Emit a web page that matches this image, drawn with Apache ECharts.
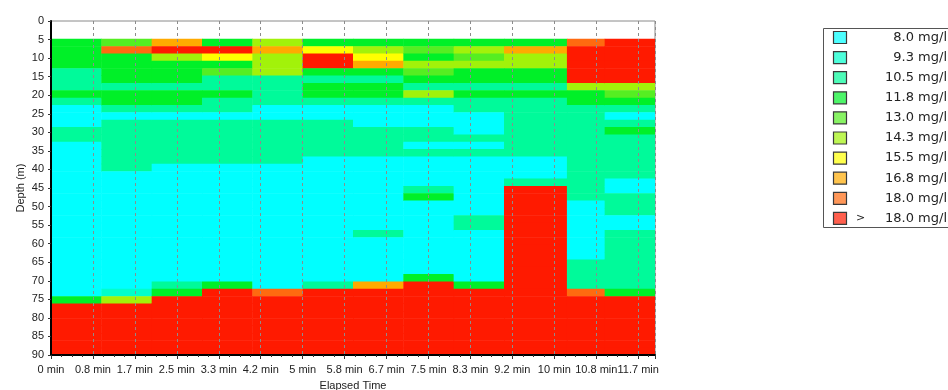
<!DOCTYPE html>
<html>
<head>
<meta charset="utf-8">
<script src="https://cdn.jsdelivr.net/npm/echarts@6/dist/echarts.min.js"></script>
<style>
  html, body { margin: 0; padding: 0; background: #ffffff; }
  #chart { width: 948px; height: 390px; }
</style>
</head>
<body>
<div id="chart"></div>
<script>
// Profile start times (min); each profile is shown until the next one starts.
const sampleStartMin = [0, 1, 2, 3, 4, 5, 6, 7, 8, 9, 10.25, 11];
const lastSampleEndMin = 12;

// Depth bins (m), top to bottom.
const binTopDepth = 4.8;
const binBottomDepth = 90;
const binCount = 43;

// Concentration classes (upper bounds), lowest first.
const classLabels = ['8.0 mg/l', '9.3 mg/l', '10.5 mg/l', '11.8 mg/l', '13.0 mg/l',
                     '14.3 mg/l', '15.5 mg/l', '16.8 mg/l', '18.0 mg/l', '18.0 mg/l'];
const classColors = ['#00FFFF', '#00FFCC', '#00FA9A', '#00F028', '#55EE22',
                     '#A2F20A', '#FFFF00', '#FFAA00', '#FF6A10', '#FF1A00'];

// Class index of each depth bin, one array per profile.
const profile00 = [3,3,3,3,2,2,2,3,2,0,0,0,2,2,0,0,0,0,0,0,0,0,0,0,0,0,0,0,0,0,0,0,0,0,0,3,9,9,9,9,9,9,9];
const profile01 = [4,8,3,3,3,3,2,3,3,2,0,2,2,2,2,2,2,2,0,0,0,0,0,0,0,0,0,0,0,0,0,0,0,0,1,5,9,9,9,9,9,9,9];
const profile02 = [7,9,5,3,3,3,2,3,3,2,0,2,2,2,2,2,2,0,0,0,0,0,0,0,0,0,0,0,0,0,0,0,0,2,3,9,9,9,9,9,9,9,9];
const profile03 = [3,9,6,3,4,2,2,3,2,2,0,2,2,2,2,2,2,0,0,0,0,0,0,0,0,0,0,0,0,0,0,0,0,3,9,9,9,9,9,9,9,9,9];
const profile04 = [5,7,5,5,5,2,2,2,2,0,0,2,2,2,2,2,2,0,0,0,0,0,0,0,0,0,0,0,0,0,0,0,0,0,8,9,9,9,9,9,9,9,9];
const profile05 = [3,6,9,9,3,2,3,3,2,0,0,2,2,2,2,2,0,0,0,0,0,0,0,0,0,0,0,0,0,0,0,0,0,2,9,9,9,9,9,9,9,9,9];
const profile06 = [3,5,6,7,3,2,3,3,2,0,0,0,2,2,2,2,0,0,0,0,0,0,0,0,0,0,2,0,0,0,0,0,0,7,9,9,9,9,9,9,9,9,9];
const profile07 = [3,4,3,5,4,3,2,5,2,0,0,0,2,2,0,2,0,0,0,0,2,3,0,0,0,0,0,0,0,0,0,0,3,9,9,9,9,9,9,9,9,9,9];
const profile08 = [3,5,4,5,3,3,2,3,2,2,0,0,0,2,0,2,0,0,0,0,0,0,0,0,2,2,0,0,0,0,0,0,0,3,9,9,9,9,9,9,9,9,9];
const profile09 = [3,7,5,5,3,3,2,3,2,2,2,2,2,2,2,2,0,0,0,2,9,9,9,9,9,9,9,9,9,9,9,9,9,9,9,9,9,9,9,9,9,9,9];
const profile10 = [8,9,9,9,9,9,5,3,3,2,2,2,2,2,2,2,2,2,2,2,2,2,0,0,0,0,0,0,0,0,2,2,2,2,8,9,9,9,9,9,9,9,9];
const profile11 = [9,9,9,9,9,9,5,4,3,2,0,2,3,2,2,2,2,2,2,0,0,2,2,2,0,0,2,2,2,2,2,2,2,2,3,9,9,9,9,9,9,9,9];
const profiles = [profile00, profile01, profile02, profile03, profile04, profile05,
                  profile06, profile07, profile08, profile09, profile10, profile11];

// Time axis ticks every 50 s.
const timeTickStep = 5 / 6;

// One rectangle per (profile, depth bin): [tStart, tEnd, depthTop, depthBottom, class]
const binHeight = (binBottomDepth - binTopDepth) / binCount;
const cells = [];
profiles.forEach(function (col, i) {
  const t0 = sampleStartMin[i];
  const t1 = i + 1 < sampleStartMin.length ? sampleStartMin[i + 1] : lastSampleEndMin;
  col.forEach(function (cls, k) {
    cells.push([t0, t1, binTopDepth + k * binHeight, binTopDepth + (k + 1) * binHeight, cls]);
  });
});

const chart = echarts.init(document.getElementById('chart'), null, { renderer: 'canvas' });

function renderCell(params, api) {
  const p0 = api.coord([api.value(0), api.value(2)]);
  const p1 = api.coord([api.value(1), api.value(3)]);
  const x = Math.min(p0[0], p1[0]);
  const y = Math.min(p0[1], p1[1]);
  return {
    type: 'rect',
    shape: { x: x, y: y, width: Math.abs(p1[0] - p0[0]) + 0.5, height: Math.abs(p1[1] - p0[1]) + 0.5 },
    style: { fill: classColors[api.value(4)] }
  };
}

// Legend swatches are drawn a little paler than the plot cells.
function paler(hex, amount) {
  const n = parseInt(hex.slice(1), 16);
  const ch = [(n >> 16) & 255, (n >> 8) & 255, n & 255].map(function (c) {
    return Math.round(c + (255 - c) * amount);
  });
  return 'rgb(' + ch.join(',') + ')';
}

const legendTop = 28;
const legendRowGap = 20.1;
const legendFont = '13px "DejaVu Sans", Verdana, sans-serif';
const legendGraphics = [{
  type: 'rect',
  shape: { x: 823.5, y: legendTop + 0.5, width: 140, height: 199 },
  style: { fill: '#ffffff', stroke: '#555555', lineWidth: 1 }
}];
classLabels.forEach(function (label, i) {
  const cy = legendTop + 9.5 + i * legendRowGap;
  legendGraphics.push({
    type: 'rect',
    shape: { x: 833.5, y: cy - 6, width: 13, height: 12 },
    style: { fill: paler(classColors[i], 0.3), stroke: '#3a3a3a', lineWidth: 1.2 }
  });
  legendGraphics.push({
    type: 'text',
    style: { x: 947, y: cy, text: label, textAlign: 'right', textVerticalAlign: 'middle',
             fill: '#222222', font: legendFont }
  });
  if (i === classLabels.length - 1) {
    legendGraphics.push({
      type: 'text',
      style: { x: 856, y: cy, text: '>', textAlign: 'left', textVerticalAlign: 'middle',
               fill: '#222222', font: '11px "DejaVu Sans", Verdana, sans-serif' }
    });
  }
});

chart.setOption({
  animation: false,
  backgroundColor: '#ffffff',
  textStyle: { fontFamily: '"Liberation Sans", Arial, sans-serif' },
  grid: {
    left: 51, top: 21, width: 604, height: 334,
    outerBoundsMode: 'none',
    containLabel: false,
    show: true, borderColor: '#8a8a8a', borderWidth: 1, backgroundColor: 'transparent'
  },
  xAxis: {
    type: 'value',
    min: 0, max: lastSampleEndMin, interval: timeTickStep,
    z: 5,
    name: 'Elapsed Time', nameLocation: 'middle', nameGap: 25, nameMoveOverlap: false,
    nameTextStyle: { color: '#222222', fontSize: 11 },
    axisLine: { show: true, onZero: false, lineStyle: { color: '#000000', width: 2 } },
    axisTick: { show: true, length: 4, lineStyle: { color: '#333333' } },
    minorTick: { show: true, splitNumber: 4, length: 2, lineStyle: { color: '#333333' } },
    axisLabel: {
      color: '#222222', fontSize: 11, margin: 9, showMaxLabel: false,
      formatter: function (v) { return (Math.round(v * 10) / 10) + ' min'; }
    },
    splitLine: { show: true, lineStyle: { color: '#8c8c8c', type: [3, 3], width: 1 } }
  },
  yAxis: {
    type: 'value',
    inverse: true,
    min: 0, max: 90, interval: 5,
    z: 5,
    name: 'Depth (m)', nameLocation: 'middle', nameGap: 25, nameMoveOverlap: false,
    nameTextStyle: { color: '#222222', fontSize: 11 },
    axisLine: { show: true, onZero: false, lineStyle: { color: '#000000', width: 2 } },
    axisTick: { show: true, length: 3, lineStyle: { color: '#333333' } },
    axisLabel: { color: '#222222', fontSize: 11, margin: 7 },
    splitLine: { show: false }
  },
  series: [{
    type: 'custom',
    renderItem: renderCell,
    clip: true,
    encode: { x: [0, 1], y: [2, 3] },
    data: cells,
    z: 1
  }],
  graphic: legendGraphics
});
</script>
</body>
</html>
